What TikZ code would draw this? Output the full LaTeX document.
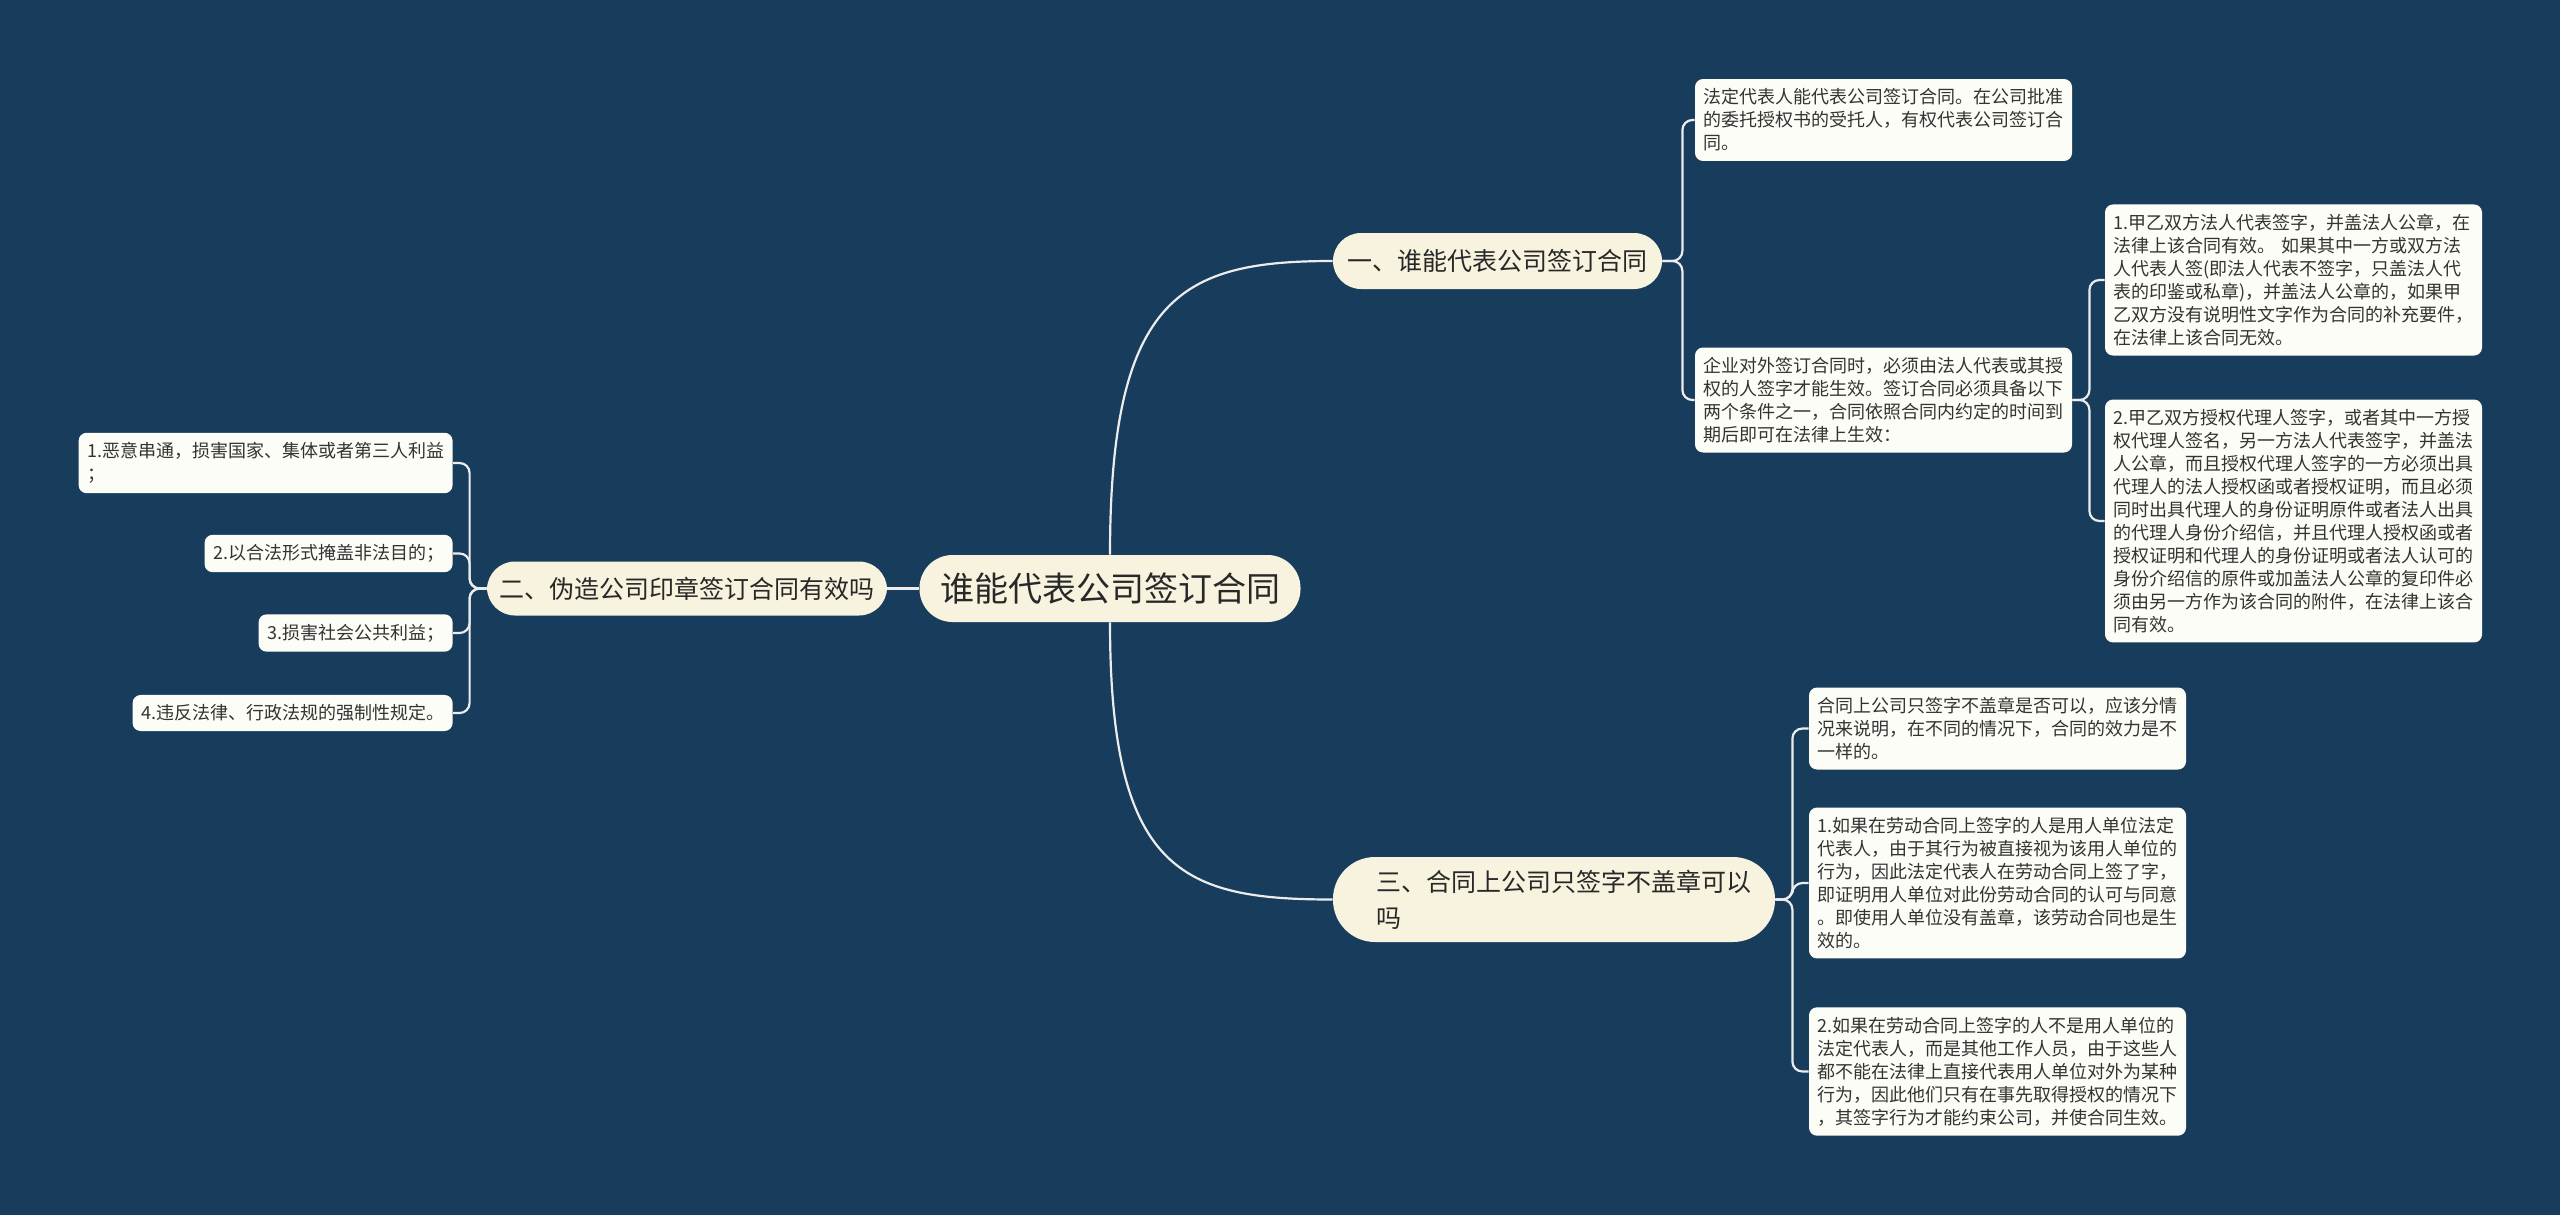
\documentclass[tikz,border=0pt]{standalone}
\usepackage{fontspec}
\setmainfont{Noto Sans CJK SC}

\begin{document}
\begin{tikzpicture}[x=0.5pt,y=0.5pt,yscale=-1,xscale=1,
        pill/.style={fill={rgb, 255:red, 248; green, 243; blue, 222 }, text={rgb, 255:red, 40; green, 40; blue, 40 }, rounded corners=14pt, inner sep=0pt, font=\fontsize{12.5pt}{15pt}\selectfont},
        leaf/.style={fill={rgb, 255:red, 253; green, 253; blue, 247 }, text={rgb, 255:red, 51; green, 51; blue, 51 }, rounded corners=4pt, inner xsep=4.25pt, inner ysep=4.8pt, align=left, font=\fontsize{9pt}{11.5pt}\selectfont},
        link/.style={draw={rgb, 255:red, 236; green, 236; blue, 236 }, line width=1.1pt, rounded corners=5pt}]

        % background
        \fill [color={rgb, 255:red, 24; green, 61; blue, 92 }] (0,0) rectangle (2560,1215);

        % Text Node
        \node [pill, minimum width=190.5pt, minimum height=33.5pt, rounded corners=16.5pt, font=\fontsize{17pt}{20pt}\selectfont] (root) at (1110,588.5) {谁能代表公司签订合同};
        % Text Node
        \node [pill, minimum width=164.5pt, minimum height=28pt] (b1) at (1497.5,261) {一、谁能代表公司签订合同};
        % Text Node
        \node [pill, minimum width=200pt, minimum height=27pt] (b2) at (687,588.5) {二、伪造公司印章签订合同有效吗};
        % Text Node
        \node [pill, text width=178pt, align=left, inner xsep=21.5pt, minimum height=42.5pt, rounded corners=21pt, font=\fontsize{12.5pt}{18pt}\selectfont] (b3) at (1554,899.5) {三、合同上公司只签字不盖章可以\\吗};

        % Text Node
        \node [leaf, text width=180pt] (lfA) at (1883.5,120) {法定代表人能代表公司签订合同。在公司批准\\的委托授权书的受托人，有权代表公司签订合\\同。};
        % Text Node
        \node [leaf, text width=180pt] (lfB) at (1883.5,400) {企业对外签订合同时，必须由法人代表或其授\\权的人签字才能生效。签订合同必须具备以下\\两个条件之一，合同依照合同内约定的时间到\\期后即可在法律上生效：};
        % Text Node
        \node [leaf, text width=180pt] (lfB1) at (2293.5,280) {1.甲乙双方法人代表签字，并盖法人公章，在\\法律上该合同有效。 如果其中一方或双方法\\人代表人签(即法人代表不签字，只盖法人代\\表的印鉴或私章)，并盖法人公章的，如果甲\\乙双方没有说明性文字作为合同的补充要件，\\在法律上该合同无效。};
        % Text Node
        \node [leaf, text width=180pt] (lfB2) at (2293.5,521) {2.甲乙双方授权代理人签字，或者其中一方授\\权代理人签名，另一方法人代表签字，并盖法\\人公章，而且授权代理人签字的一方必须出具\\代理人的法人授权函或者授权证明，而且必须\\同时出具代理人的身份证明原件或者法人出具\\的代理人身份介绍信，并且代理人授权函或者\\授权证明和代理人的身份证明或者法人认可的\\身份介绍信的原件或加盖法人公章的复印件必\\须由另一方作为该合同的附件，在法律上该合\\同有效。};
        % Text Node
        \node [leaf, text width=180pt] (lfC) at (1997.5,728.5) {合同上公司只签字不盖章是否可以，应该分情\\况来说明，在不同的情况下，合同的效力是不\\一样的。};
        % Text Node
        \node [leaf, text width=180pt] (lfC1) at (1997.5,883) {1.如果在劳动合同上签字的人是用人单位法定\\代表人，由于其行为被直接视为该用人单位的\\行为，因此法定代表人在劳动合同上签了字，\\即证明用人单位对此份劳动合同的认可与同意\\。即使用人单位没有盖章，该劳动合同也是生\\效的。};
        % Text Node
        \node [leaf, text width=180pt] (lfC2) at (1997.5,1071.5) {2.如果在劳动合同上签字的人不是用人单位的\\法定代表人，而是其他工作人员，由于这些人\\都不能在法律上直接代表用人单位对外为某种\\行为，因此他们只有在事先取得授权的情况下\\，其签字行为才能约束公司，并使合同生效。};

        % Text Node
        \node [leaf, anchor=east] (lfL1) at (453,463) {1.恶意串通，损害国家、集体或者第三人利益\\；};
        % Text Node
        \node [leaf, anchor=east] (lfL2) at (453,553.5) {2.以合法形式掩盖非法目的；};
        % Text Node
        \node [leaf, anchor=east] (lfL3) at (453,633) {3.损害社会公共利益；};
        % Text Node
        \node [leaf, anchor=east] (lfL4) at (453,713) {4.违反法律、行政法规的强制性规定。};

        % Connection
        \draw [link] (root.north) .. controls +(0,-260) and +(-150,0) .. (b1.west);
        % Connection
        \draw [link] (root.south) .. controls +(0,250) and +(-150,0) .. (b3.west);
        % Connection
        \draw [link] (root.west) -- (b2.east);

        % Connection
        \draw [link] (b1.east) -- ++(20,0) |- (lfA.west);
        \draw [link] (b1.east) -- ++(20,0) |- (lfB.west);
        % Connection
        \draw [link] (lfB.east) -- ++(17,0) |- (lfB1.west);
        \draw [link] (lfB.east) -- ++(17,0) |- (lfB2.west);
        % Connection
        \draw [link] (b3.east) -- ++(17,0) |- (lfC.west);
        \draw [link] (b3.east) -- ++(17,0) |- (lfC1.west);
        \draw [link] (b3.east) -- ++(17,0) |- (lfC2.west);
        % Connection
        \draw [link] (b2.west) -- ++(-17,0) |- (lfL1.east);
        \draw [link] (b2.west) -- ++(-17,0) |- (lfL2.east);
        \draw [link] (b2.west) -- ++(-17,0) |- (lfL3.east);
        \draw [link] (b2.west) -- ++(-17,0) |- (lfL4.east);

        \end{tikzpicture}
\end{document}
